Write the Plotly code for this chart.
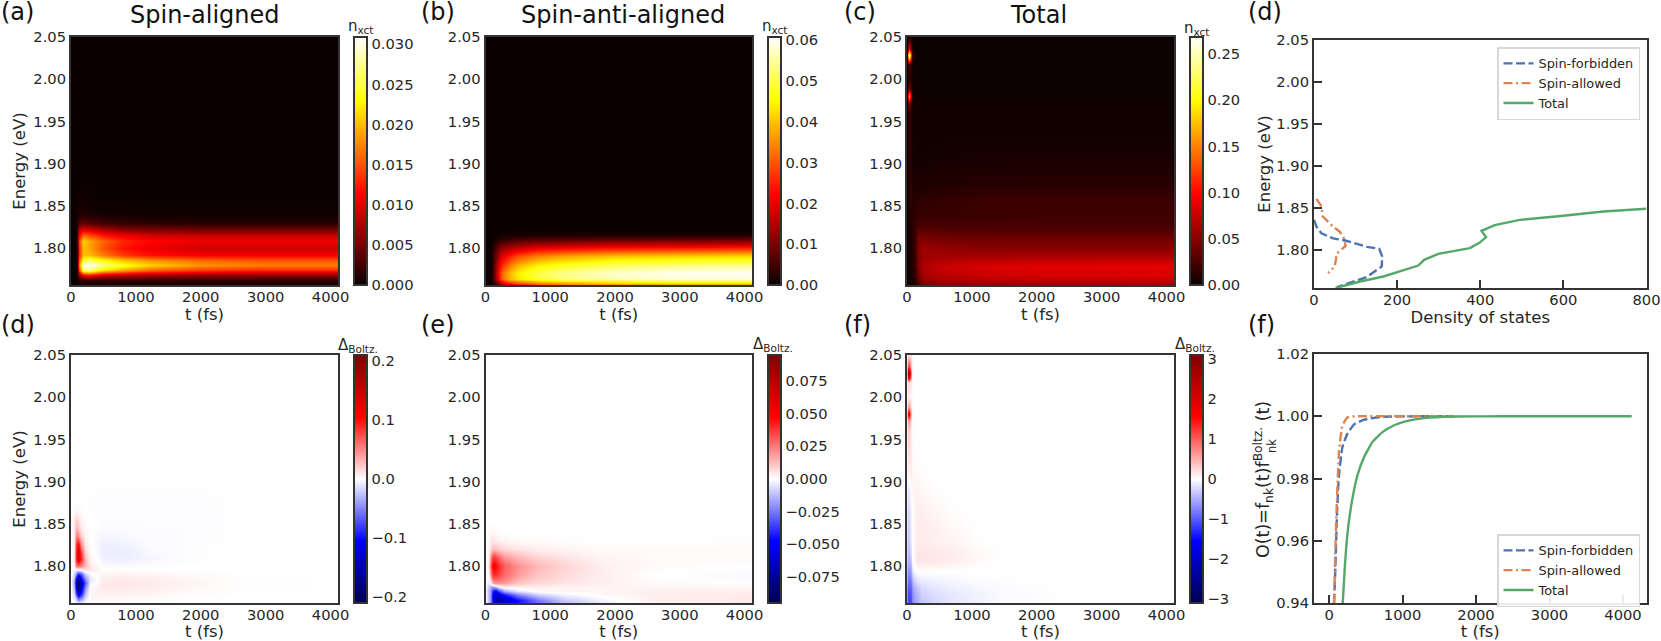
import plotly.graph_objects as go

W, H = 1661, 641
HOT = [[0, "rgb(11,0,0)"], [0.365, "rgb(255,0,0)"], [0.746, "rgb(255,255,0)"], [1, "rgb(255,255,255)"]]
SEISMIC = [[0, "rgb(0,0,77)"], [0.25, "rgb(0,0,255)"], [0.5, "rgb(255,255,255)"], [0.75, "rgb(255,0,0)"], [1, "rgb(128,0,0)"]]

# ---------- panel (a) spin-aligned population ----------
T_A = [0, 60, 90, 120, 180, 280, 500, 800, 1200, 2000, 3000, 4115]
E_A = [1.756, 1.762, 1.768, 1.774, 1.78, 1.786, 1.792, 1.80, 1.808, 1.815, 1.822, 1.83, 1.84, 1.85, 1.86, 1.88, 2.05]
Z_A = [
    [0, 0, 0, .0003, .0005, .0005, .0004, .0004, .0004, .0004, .0003, .0003],
    [0, 0, 0, .001, .002, .002, .002, .002, .002, .002, .002, .002],
    [0, 0, .0005, .006, .011, .012, .009, .008, .007, .006, .006, .006],
    [0, 0, .001, .014, .026, .027, .022, .019, .016, .014, .013, .013],
    [0, 0, .002, .017, .030, .0309, .027, .024, .021, .018, .017, .017],
    [0, 0, .002, .015, .024, .026, .023, .020, .018, .016, .015, .015],
    [0, 0, .002, .013, .020, .020, .017, .014, .012, .011, .011, .011],
    [0, 0, .002, .013, .020, .019, .015, .012, .0105, .009, .009, .009],
    [0, 0, .0025, .014, .021, .019, .016, .013, .0115, .0105, .0105, .0105],
    [0, 0, .0025, .011, .016, .015, .012, .0105, .009, .0085, .0085, .0085],
    [0, 0, .002, .008, .0095, .009, .007, .0055, .005, .0045, .0045, .0045],
    [0, 0, .001, .003, .004, .0035, .0025, .002, .0015, .0013, .0013, .0013],
    [0, 0, .0006, .001, .001, .0007, .0004, .0003, .0002, .0002, .0002, .0002],
    [0, 0, .0004, .0006, .0005, .0003, .0001, .0001, .0001, .0001, .0001, .0001],
    [0, 0, .0003, .0004, .0002, .0001, 0, 0, 0, 0, 0, 0],
    [0, 0, 0, 0, 0, 0, 0, 0, 0, 0, 0, 0],
    [0, 0, 0, 0, 0, 0, 0, 0, 0, 0, 0, 0],
]

# ---------- panel (b) spin-anti-aligned population ----------
T_B = [0, 90, 130, 180, 250, 350, 500, 800, 1200, 2000, 3000, 4115]
E_B = [1.756, 1.763, 1.77, 1.779, 1.79, 1.797, 1.803, 1.81, 1.815, 1.82, 2.05]
Z_B = [
    [0, 0, .002, .006, .012, .018, .022, .027, .030, .033, .035, .035],
    [0, .001, .006, .018, .030, .038, .043, .048, .052, .056, .058, .058],
    [0, .001, .007, .020, .031, .038, .044, .050, .054, .058, .060, .0605],
    [0, .001, .006, .017, .026, .033, .039, .045, .048, .052, .054, .055],
    [0, .001, .005, .012, .019, .024, .029, .034, .037, .040, .041, .042],
    [0, .0005, .004, .010, .014, .017, .020, .024, .026, .028, .029, .030],
    [0, .0003, .002, .006, .009, .011, .013, .015, .016, .018, .018, .019],
    [0, 0, .001, .002, .003, .004, .005, .006, .0065, .007, .0075, .008],
    [0, 0, 0, .0005, .001, .001, .0015, .002, .002, .002, .002, .002],
    [0, 0, 0, 0, 0, 0, 0, 0, 0, 0, 0, 0],
    [0, 0, 0, 0, 0, 0, 0, 0, 0, 0, 0, 0],
]

# ---------- panel (c) total population ----------
T_C = [0, 20, 35, 55, 80, 120, 170, 250, 400, 700, 1200, 2000, 4115]
E_C = [1.756, 1.765, 1.778, 1.79, 1.80, 1.812, 1.825, 1.84, 1.855, 1.875, 1.90, 1.93, 1.96, 1.972, 1.98, 1.988, 2.0, 2.018, 2.0235, 2.0285, 2.036, 2.05]
Z_C = [
    [0, .001, .002, .003, .004, .008, .025, .040, .045, .048, .050, .053, .056],
    [0, .002, .003, .005, .006, .015, .040, .060, .066, .070, .075, .079, .082],
    [0, .003, .004, .006, .008, .020, .050, .065, .072, .078, .083, .086, .088],
    [0, .003, .005, .007, .009, .020, .048, .058, .060, .061, .062, .064, .066],
    [0, .003, .005, .008, .010, .022, .050, .060, .056, .053, .050, .050, .050],
    [0, .003, .006, .009, .011, .020, .042, .045, .043, .041, .040, .040, .040],
    [0, .003, .006, .010, .012, .018, .027, .027, .026, .025, .025, .025, .025],
    [0, .004, .008, .012, .012, .014, .018, .018, .018, .018, .019, .020, .020],
    [0, .006, .012, .016, .012, .011, .013, .014, .015, .017, .019, .020, .020],
    [0, .006, .012, .014, .009, .007, .007, .008, .009, .010, .011, .012, .012],
    [0, .006, .012, .012, .006, .004, .004, .004, .005, .005, .006, .007, .007],
    [0, .012, .018, .012, .004, .002, .002, .002, .002, .003, .003, .003, .003],
    [0, .012, .020, .010, .003, .002, .002, .002, .002, .002, .002, .002, .002],
    [0, .030, .050, .020, .004, .002, .002, .002, .002, .002, .002, .002, .002],
    [0, .100, .170, .070, .010, .003, .001, .001, .001, .001, .001, .001, .001],
    [0, .030, .050, .020, .004, .001, .001, .001, .001, .001, .001, .001, .001],
    [0, .010, .012, .006, .002, .001, .001, .001, .001, .001, .001, .001, .001],
    [0, .020, .030, .012, .003, .001, .001, .001, .001, .001, .001, .001, .001],
    [0, .120, .170, .080, .015, .002, .001, .001, .001, .001, .001, .001, .001],
    [0, .180, .268, .120, .020, .002, .001, .001, .001, .001, .001, .001, .001],
    [0, .060, .090, .040, .008, .001, .001, .001, .001, .001, .001, .001, .001],
    [0, .005, .010, .004, .001, 0, 0, 0, 0, 0, 0, 0, 0],
]

# ---------- panel (d) spin-aligned deviation ----------
T_D = [0, 40, 70, 110, 160, 220, 300, 500, 800, 1200, 1800, 2500, 4115]
E_D = [1.756, 1.762, 1.768, 1.775, 1.78, 1.785, 1.79, 1.795, 1.80, 1.808, 1.815, 1.825, 1.835, 1.845, 1.855, 1.865, 1.88, 1.90, 1.92, 2.05]
Z_D = [
    [0, 0, 0, -.005, -.005, 0, .002, .002, .001, .001, .0005, 0, 0],
    [0, -.005, -.03, -.07, -.05, -.015, .004, .003, .003, .002, .001, 0, 0],
    [0, -.02, -.08, -.14, -.10, -.03, .005, .006, .006, .005, .002, .001, .0005],
    [0, -.03, -.12, -.19, -.13, -.05, .002, .009, .009, .008, .004, .001, .0005],
    [0, -.04, -.14, -.21, -.14, -.07, -.005, .009, .010, .008, .005, .001, .0005],
    [0, -.03, -.11, -.16, -.11, -.05, -.01, .008, .009, .008, .004, .001, .0005],
    [0, -.015, -.05, -.09, -.07, -.02, -.003, .004, .005, .004, .002, .001, .0005],
    [0, -.005, -.01, -.01, -.005, .01, .01, .001, .001, .0005, 0, 0, 0],
    [0, .005, .05, .06, .05, .03, .01, -.002, -.002, -.001, 0, 0, 0],
    [0, .01, .09, .13, .09, .03, .005, -.006, -.007, -.004, -.001, 0, 0],
    [0, .01, .09, .14, .08, .02, .003, -.007, -.008, -.003, -.001, 0, 0],
    [0, .01, .08, .11, .05, .01, .001, -.007, -.006, -.002, -.001, 0, 0],
    [0, .01, .05, .05, .02, .005, 0, -.004, -.003, -.002, -.001, -.0005, 0],
    [0, .01, .03, .025, .008, .002, 0, -.002, -.0015, -.001, -.001, -.0005, 0],
    [0, .008, .02, .012, .004, .001, 0, -.001, -.001, -.001, -.001, -.0005, 0],
    [0, .002, .004, .003, .001, 0, -.0005, -.001, -.001, -.001, -.001, -.0005, 0],
    [0, 0, 0, 0, 0, 0, -.0005, -.0008, -.0008, -.0008, -.0008, -.0005, 0],
    [0, 0, 0, 0, 0, 0, -.0003, -.0005, -.0005, -.0005, -.0005, -.0003, 0],
    [0, 0, 0, 0, 0, 0, 0, 0, 0, 0, 0, 0, 0],
    [0, 0, 0, 0, 0, 0, 0, 0, 0, 0, 0, 0, 0],
]

# ---------- panel (e) spin-anti-aligned deviation ----------
T_E = [0, 50, 80, 110, 150, 200, 300, 500, 800, 1200, 1800, 2600, 4115]
E_E = [1.756, 1.76, 1.765, 1.77, 1.775, 1.78, 1.785, 1.79, 1.80, 1.81, 1.82, 1.83, 1.84, 1.85, 2.05]
Z_E = [
    [0, -.01, -.02, -.045, -.06, -.065, -.06, -.045, -.028, -.013, -.004, .002, .004],
    [0, -.012, -.02, -.05, -.07, -.075, -.065, -.045, -.025, -.01, -.002, .003, .004],
    [0, -.012, -.02, -.05, -.065, -.06, -.045, -.025, -.01, -.003, .001, .003, .004],
    [0, -.012, -.02, -.04, -.05, -.035, -.016, -.005, .001, .002, .002, .003, .003],
    [0, -.01, -.015, -.02, -.015, -.005, .002, .003, .003, .002, .002, .002, .002],
    [0, -.005, .002, .015, .02, .02, .018, .011, .007, .005, .003, .001, 0],
    [0, 0, .01, .028, .03, .028, .024, .015, .009, .006, .003, .0005, -.001],
    [0, .002, .02, .04, .04, .036, .028, .019, .011, .007, .003, 0, -.001],
    [0, .005, .03, .05, .048, .04, .03, .021, .013, .008, .003, .001, 0],
    [0, .003, .02, .036, .035, .028, .019, .013, .008, .005, .002, .001, .001],
    [0, .002, .006, .012, .012, .009, .007, .005, .003, .002, .001, .001, .001],
    [0, .001, .004, .005, .004, .003, .002, .001, .001, .0005, 0, 0, .0005],
    [0, .001, .002, .002, .001, .0005, 0, 0, 0, 0, 0, 0, 0],
    [0, 0, 0, 0, 0, 0, 0, 0, 0, 0, 0, 0, 0],
    [0, 0, 0, 0, 0, 0, 0, 0, 0, 0, 0, 0, 0],
]

# ---------- panel (f) total deviation ----------
T_F = [0, 20, 35, 55, 80, 110, 150, 220, 400, 700, 1100, 1500, 2500, 4115]
E_F = [1.756, 1.765, 1.775, 1.785, 1.795, 1.805, 1.815, 1.83, 1.85, 1.87, 1.89, 1.91, 1.94, 1.96, 1.972, 1.98, 1.988, 2.0, 2.018, 2.0235, 2.0285, 2.036, 2.05]
Z_F = [
    [-.7, -1.1, -1.1, -1.1, -.8, -.6, -.5, -.35, -.25, -.15, -.08, -.03, 0, 0],
    [-.7, -1.1, -1.15, -1.0, -.75, -.55, -.45, -.3, -.22, -.15, -.08, -.03, 0, 0],
    [-.6, -1.0, -1.0, -.9, -.65, -.45, -.35, -.22, -.15, -.1, -.05, -.02, 0, 0],
    [-.5, -.8, -.85, -.7, -.45, -.25, -.15, -.1, -.07, -.04, -.02, -.005, 0, 0],
    [-.4, -.65, -.65, -.5, -.2, -.03, 0, .03, .01, 0, 0, 0, 0, 0],
    [-.3, -.5, -.5, -.35, -.05, .05, .15, .15, .14, .1, .03, 0, 0, 0],
    [-.25, -.4, -.4, -.2, 0, .05, .15, .15, .14, .12, .05, 0, 0, 0],
    [-.2, -.35, -.3, -.1, 0, .05, .12, .12, .1, .07, .015, 0, 0, 0],
    [-.15, -.3, -.25, -.08, .02, .05, .12, .12, .09, .04, 0, 0, 0, 0],
    [-.1, -.25, -.2, -.05, .03, .05, .1, .09, .05, .01, 0, 0, 0, 0],
    [-.05, -.15, -.1, 0, .05, .07, .08, .05, .02, 0, 0, 0, 0, 0],
    [.02, .08, .1, .1, .06, .04, .03, .015, 0, 0, 0, 0, 0, 0],
    [.08, .25, .25, .12, .04, .02, .01, 0, 0, 0, 0, 0, 0, 0],
    [.08, .3, .3, .12, .03, .01, 0, 0, 0, 0, 0, 0, 0, 0],
    [.15, .6, .6, .2, .03, .01, 0, 0, 0, 0, 0, 0, 0, 0],
    [.4, 1.7, 1.7, .5, .05, .01, 0, 0, 0, 0, 0, 0, 0, 0],
    [.15, .6, .6, .2, .03, 0, 0, 0, 0, 0, 0, 0, 0, 0],
    [.05, .1, .1, .06, .02, 0, 0, 0, 0, 0, 0, 0, 0, 0],
    [.1, .25, .25, .12, .03, 0, 0, 0, 0, 0, 0, 0, 0, 0],
    [.5, 2.0, 2.1, .6, .08, 0, 0, 0, 0, 0, 0, 0, 0, 0],
    [.7, 2.6, 2.6, .8, .1, 0, 0, 0, 0, 0, 0, 0, 0, 0],
    [.3, 1.2, 1.2, .4, .08, 0, 0, 0, 0, 0, 0, 0, 0, 0],
    [.05, .15, .2, .15, .05, .01, 0, 0, 0, 0, 0, 0, 0, 0],
]

# ---------- density of states ----------
DOS_FORB_X = [0, 6, 18, 46, 75, 127, 157, 164, 163, 127, 79, 55]
DOS_FORB_E = [1.836, 1.828, 1.820, 1.814, 1.8115, 1.804, 1.8016, 1.7925, 1.7806, 1.768, 1.760, 1.756]
DOS_ALLOW_X = [6, 18, 21, 46, 62, 72, 76, 55, 50, 34]
DOS_ALLOW_E = [1.861, 1.852, 1.840, 1.828, 1.822, 1.814, 1.805, 1.796, 1.7806, 1.7726]
DOS_TOTAL_X = [52, 111, 167, 215, 251, 265, 299, 375, 399, 414, 403, 435, 495, 600, 696, 800]
DOS_TOTAL_E = [1.755, 1.7627, 1.7687, 1.7758, 1.7817, 1.7885, 1.7956, 1.8024, 1.809, 1.8155, 1.823, 1.8298, 1.836, 1.841, 1.846, 1.8492]

# ---------- overlap ----------
O_FORB_T = [68, 86, 105, 132, 182, 250, 341, 477, 705, 1295, 1700]
O_FORB_V = [.94, .9514, .9665, .9804, .9901, .9944, .9974, .9989, .9998, 1.0, 1.0]
O_ALLOW_T = [68, 86, 105, 136, 182, 250, 364, 1295, 1700]
O_ALLOW_V = [.94, .9568, .9718, .989, .9971, .9996, 1.0, 1.0, 1.0]
O_TOTAL_T = [186, 214, 250, 305, 386, 477, 591, 727, 886, 1068, 1295, 1689, 2370, 4118]
O_TOTAL_V = [.94, .9514, .9622, .9718, .981, .9869, .9917, .9949, .9971, .9985, .9994, .9999, 1.0, 1.0]

T_RANGE = [0, 4115]
E_RANGE = [1.756, 2.05]
E_TICKS = [1.80, 1.85, 1.90, 1.95, 2.00, 2.05]
T_TICKS = [0, 1000, 2000, 3000, 4000]

INK = "#262626"
FRAME = "#333333"
FONT = "DejaVu Sans"
TICK = 14.7
LABEL = 16.5
BLUE, ORANGE, GREEN = "#4c72b0", "#dd8452", "#55a868"


def fx(p):
    return p / W


def fy(p):
    return 1 - p / H


fig = go.Figure()


def axes(n, x0, x1, y0, y1, xrange, yrange, xt, yt, xtitle, ytitle, ticks, yfmt, xstand=3, ystand=4):
    s = "" if n == 1 else str(n)
    common = dict(showline=True, linecolor=FRAME, linewidth=2, mirror=True, showgrid=False, zeroline=False,
                  automargin=False,
                  ticks=ticks, ticklen=8 if ticks else 0, tickwidth=2, tickcolor=FRAME,
                  tickfont=dict(family=FONT, size=TICK, color=INK))
    xa = dict(common, domain=[fx(x0), fx(x1)], range=xrange, tickmode="array", tickvals=xt, anchor="y" + s,
              ticklabelstandoff=-3)
    ya = dict(common, domain=[fy(y1), fy(y0)], range=yrange, tickmode="array", tickvals=yt, anchor="x" + s,
              tickformat=yfmt)
    if xtitle:
        xa["title"] = dict(text=xtitle, standoff=xstand, font=dict(family=FONT, size=LABEL, color=INK))
    if ytitle:
        ya["title"] = dict(text=ytitle, standoff=ystand, font=dict(family=FONT, size=LABEL, color=INK))
    fig.update_layout({"xaxis" + s: xa, "yaxis" + s: ya})


def heat(n, x, y, z, cs, zmin, zmax, cx, cy0, cy1, cticks, cfmt):
    s = "" if n == 1 else str(n)
    fig.add_trace(go.Heatmap(
        x=x, y=y, z=z, colorscale=cs, zmin=zmin, zmax=zmax, zsmooth="best", xaxis="x" + s, yaxis="y" + s,
        colorbar=dict(x=fx(cx), xanchor="left", xpad=0, ypad=0, y=fy(cy1), yanchor="bottom",
                      len=(cy1 - cy0) / H, lenmode="fraction", thickness=12.5, thicknessmode="pixels",
                      outlinewidth=2, outlinecolor=FRAME, borderwidth=0, ticks="", ticklen=0,
                      tickmode="array", tickvals=cticks, tickformat=cfmt,
                      tickfont=dict(family=FONT, size=TICK, color=INK))))


T1, B1, T2, B2 = 37, 285, 355, 603

axes(1, 71, 338, T1, B1, T_RANGE, E_RANGE, T_TICKS, E_TICKS, "t (fs)", "Energy (eV)", "", ".2f")
axes(2, 485.5, 752, T1, B1, T_RANGE, E_RANGE, T_TICKS, E_TICKS, "t (fs)", None, "", ".2f")
axes(3, 907, 1174, T1, B1, T_RANGE, E_RANGE, T_TICKS, E_TICKS, "t (fs)", None, "", ".2f")
axes(4, 71, 338, T2, B2, T_RANGE, E_RANGE, T_TICKS, E_TICKS, "t (fs)", "Energy (eV)", "", ".2f")
axes(5, 485.5, 752, T2, B2, T_RANGE, E_RANGE, T_TICKS, E_TICKS, "t (fs)", None, "", ".2f")
axes(6, 907, 1174, T2, B2, T_RANGE, E_RANGE, T_TICKS, E_TICKS, "t (fs)", None, "", ".2f")
axes(7, 1314, 1646.5, 40, 288, [0, 800], [1.755, 2.05], [0, 200, 400, 600, 800], E_TICKS,
     "Density of states", "Energy (eV)", "inside", ".2f", ystand=2)
axes(8, 1314, 1646.5, 354, 603, [-205, 4320], [.94, 1.02], T_TICKS, [.94, .96, .98, 1.0, 1.02],
     "t (fs)", None, "inside", ".2f")

heat(1, T_A, E_A, Z_A, HOT, 0, .0309, 354, T1, B1, [0, .005, .01, .015, .02, .025, .03], ".3f")
heat(2, T_B, E_B, Z_B, HOT, 0, .0608, 768, T1, B1, [0, .01, .02, .03, .04, .05, .06], ".2f")
heat(3, T_C, E_C, Z_C, HOT, 0, .2685, 1190, T1, B1, [0, .05, .10, .15, .20, .25], ".2f")
heat(4, T_D, E_D, Z_D, SEISMIC, -.2107, .2107, 354, T2, B2, [-.2, -.1, 0, .1, .2], ".1f")
heat(5, T_E, E_E, Z_E, SEISMIC, -.0949, .0949, 768, T2, B2, [-.075, -.05, -.025, 0, .025, .05, .075], ".3f")
heat(6, T_F, E_F, Z_F, SEISMIC, -3.1, 3.1, 1189.5, T2, B2, [-3, -2, -1, 0, 1, 2, 3], "d")

DASH = "9px,3.5px"
DASHDOT = "9px,3.5px,2px,3.5px"
NAMES = ["Spin-forbidden", "Spin-allowed", "Total"]
for xs, ys, color, dash, name in [(DOS_FORB_X, DOS_FORB_E, BLUE, DASH, NAMES[0]),
                                  (DOS_ALLOW_X, DOS_ALLOW_E, ORANGE, DASHDOT, NAMES[1]),
                                  (DOS_TOTAL_X, DOS_TOTAL_E, GREEN, "solid", NAMES[2])]:
    fig.add_trace(go.Scatter(x=xs, y=ys, mode="lines", name=name, xaxis="x7", yaxis="y7", legend="legend",
                             line=dict(color=color, width=2.4, dash=dash)))
for xs, ys, color, dash, name in [(O_FORB_T, O_FORB_V, BLUE, DASH, NAMES[0]),
                                  (O_ALLOW_T, O_ALLOW_V, ORANGE, DASHDOT, NAMES[1]),
                                  (O_TOTAL_T, O_TOTAL_V, GREEN, "solid", NAMES[2])]:
    fig.add_trace(go.Scatter(x=xs, y=ys, mode="lines", name=name, xaxis="x8", yaxis="y8", legend="legend2",
                             line=dict(color=color, width=2.4, dash=dash, shape="spline", smoothing=0.4)))

legend_style = dict(xanchor="left", yanchor="top", bgcolor="rgba(255,255,255,0.9)", bordercolor="#d8d8d8",
                    borderwidth=1.5, font=dict(family=FONT, size=12.9, color=INK), itemwidth=30,
                    entrywidth=104, entrywidthmode="pixels", tracegroupgap=0)
fig.update_layout(legend=dict(legend_style, x=fx(1497), y=fy(47)),
                  legend2=dict(legend_style, x=fx(1497), y=fy(534)))


def note(text, px, py, size, color=INK, anchor="center", angle=0):
    fig.add_annotation(text=text, x=fx(px), y=fy(py), xref="paper", yref="paper", showarrow=False,
                       xanchor=anchor, yanchor="middle", textangle=angle,
                       font=dict(family=FONT, size=size, color=color))


for text, px, py in [("(a)", -1, 12), ("(b)", 419, 12), ("(c)", 842, 12), ("(d)", 1246, 12),
                     ("(d)", -1, 325), ("(e)", 419, 325), ("(f)", 842, 325), ("(f)", 1246, 325)]:
    note(text, px, py, 24, "#111111", "left")
for text, px in [("Spin-aligned", 205), ("Spin-anti-aligned", 623), ("Total", 1038)]:
    note(text, px, 15, 24, "#111111")
for px, py in [(360, 27), (774, 27), (1196, 29)]:
    note("n<sub>xct</sub>", px, py, 15)
for px, py in [(358, 345), (773, 344), (1195, 344)]:
    note("Δ<sub>Boltz.</sub>", px, py, 15)
note("O(t)=f<sub>nk</sub>(t)f<sup>Boltz.</sup> (t)", 1263, 480, 17.5, angle=-90)
note("nk", 1272, 446, 11.5, angle=-90)

fig.update_layout(width=W, height=H, margin=dict(l=0, r=0, t=0, b=0), paper_bgcolor="white", plot_bgcolor="white",
                  font=dict(family=FONT, color=INK), autosize=False)
fig.write_html("out.html", config=dict(displayModeBar=False), post_script="document.body.style.margin='0';")
